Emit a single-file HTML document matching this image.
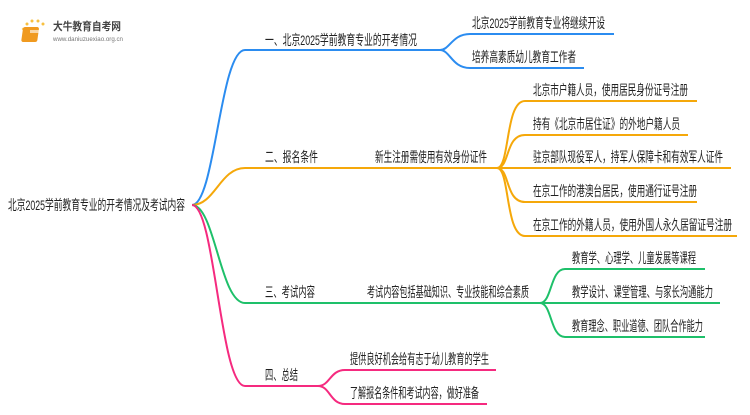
<!DOCTYPE html>
<html><head><meta charset="utf-8"><style>
body{margin:0;background:#fff;}
svg text{font-family:"Liberation Sans","Noto Sans CJK SC",sans-serif;fill:#222;}
</style></head><body>
<svg width="750" height="410" viewBox="0 0 750 410" xmlns="http://www.w3.org/2000/svg">
<g>
<circle cx="27" cy="24" r="1.5" fill="#f8c040"/><circle cx="32" cy="21" r="1.5" fill="#f8c040"/><circle cx="38" cy="21" r="1.5" fill="#f8c040"/><circle cx="43" cy="24" r="1.5" fill="#f8c040"/><circle cx="23" cy="29" r="1.2" fill="#f8d070"/>
<rect x="27" y="27" width="16" height="15" rx="2" fill="#f09a20" transform="skewX(-8)"/>
<rect x="30" y="30" width="10" height="3" fill="#fff" opacity=".6"/>
<text x="53" y="30" font-size="11" font-weight="bold" style="fill:#444" textLength="68" lengthAdjust="spacingAndGlyphs">大牛教育自考网</text>
<text x="53" y="41" font-size="6" style="fill:#777" textLength="70" lengthAdjust="spacingAndGlyphs">www.daniuzuexiao.org.cn</text>
</g>
<g fill="none" stroke-width="2">
<path d="M192 205 C215 205,220 50,245 50 L440 50" stroke="#2b8cf0"/>
<path d="M440 50 C450 50,452 34,470 34 L614 34" stroke="#2b8cf0"/>
<path d="M440 50 C450 50,452 68,470 68 L584 68" stroke="#2b8cf0"/>
<path d="M192 205 C215 205,220 168,245 168 L497 168" stroke="#f5a80a"/>
<path d="M497 168 C510 168,505 101,525 101 L697 101" stroke="#f5a80a"/>
<path d="M497 168 C510 168,505 135,525 135 L688 135" stroke="#f5a80a"/>
<path d="M497 168 L731 168" stroke="#f5a80a"/>
<path d="M497 168 C510 168,505 202,525 202 L697 202" stroke="#f5a80a"/>
<path d="M497 168 C510 168,505 236,525 236 L737 236" stroke="#f5a80a"/>
<path d="M192 205 C215 205,220 303,245 303 L540 303" stroke="#1ec06a"/>
<path d="M540 303 C552 303,550 269,565 269 L705 269" stroke="#1ec06a"/>
<path d="M540 303 L720 303" stroke="#1ec06a"/>
<path d="M540 303 C552 303,550 337,565 337 L705 337" stroke="#1ec06a"/>
<path d="M192 205 C215 205,220 386,245 386 L318 386" stroke="#f52a7f"/>
<path d="M318 386 C330 386,330 370,345 370 L496 370" stroke="#f52a7f"/>
<path d="M318 386 C330 386,330 404,345 404 L487 404" stroke="#f52a7f"/>
</g>
<g font-size="14">
<text x="8" y="210" textLength="177" lengthAdjust="spacingAndGlyphs">北京2025学前教育专业的开考情况及考试内容</text>
<text x="265" y="45" textLength="152" lengthAdjust="spacingAndGlyphs">一、北京2025学前教育专业的开考情况</text>
<text x="472" y="28" textLength="133" lengthAdjust="spacingAndGlyphs">北京2025学前教育专业将继续开设</text>
<text x="472" y="62" textLength="104" lengthAdjust="spacingAndGlyphs">培养高素质幼儿教育工作者</text>
<text x="265" y="162" textLength="53" lengthAdjust="spacingAndGlyphs">二、报名条件</text>
<text x="375" y="162" textLength="112" lengthAdjust="spacingAndGlyphs">新生注册需使用有效身份证件</text>
<text x="533" y="95" textLength="155" lengthAdjust="spacingAndGlyphs">北京市户籍人员，使用居民身份证号注册</text>
<text x="533" y="129" textLength="147" lengthAdjust="spacingAndGlyphs">持有《北京市居住证》的外地户籍人员</text>
<text x="533" y="162" textLength="190" lengthAdjust="spacingAndGlyphs">驻京部队现役军人，持军人保障卡和有效军人证件</text>
<text x="533" y="196" textLength="164" lengthAdjust="spacingAndGlyphs">在京工作的港澳台居民，使用通行证号注册</text>
<text x="533" y="230" textLength="199" lengthAdjust="spacingAndGlyphs">在京工作的外籍人员，使用外国人永久居留证号注册</text>
<text x="265" y="297" textLength="50" lengthAdjust="spacingAndGlyphs">三、考试内容</text>
<text x="367" y="297" textLength="162" lengthAdjust="spacingAndGlyphs">考试内容包括基础知识、专业技能和综合素质</text>
<text x="572" y="263" textLength="124" lengthAdjust="spacingAndGlyphs">教育学、心理学、儿童发展等课程</text>
<text x="572" y="297" textLength="141" lengthAdjust="spacingAndGlyphs">教学设计、课堂管理、与家长沟通能力</text>
<text x="572" y="331" textLength="131" lengthAdjust="spacingAndGlyphs">教育理念、职业道德、团队合作能力</text>
<text x="265" y="380" textLength="33" lengthAdjust="spacingAndGlyphs">四、总结</text>
<text x="350" y="364" textLength="139" lengthAdjust="spacingAndGlyphs">提供良好机会给有志于幼儿教育的学生</text>
<text x="350" y="398" textLength="129" lengthAdjust="spacingAndGlyphs">了解报名条件和考试内容，做好准备</text>
</g>
</svg>
</body></html>
